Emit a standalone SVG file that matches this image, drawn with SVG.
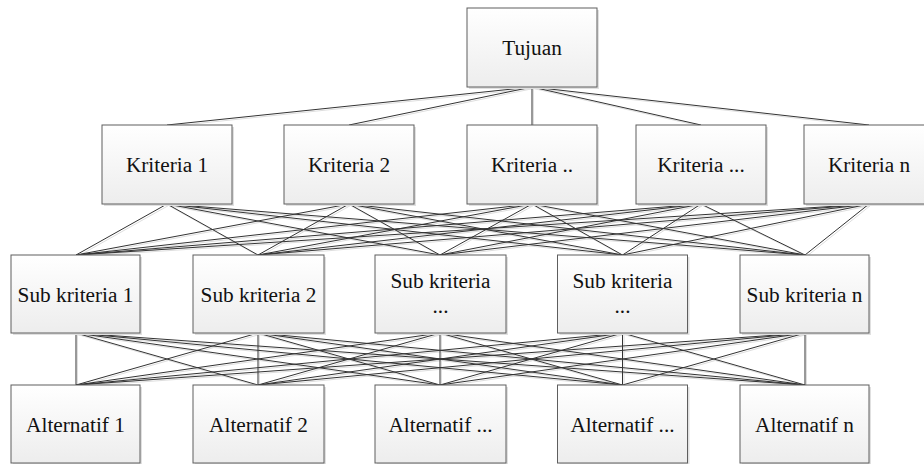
<svg xmlns="http://www.w3.org/2000/svg" xmlns:xlink="http://www.w3.org/1999/xlink" width="924" height="464" viewBox="0 0 924 464">
<defs>
<linearGradient id="gf" x1="0" y1="0" x2="0" y2="1">
<stop offset="0" stop-color="#ffffff"/>
<stop offset="1" stop-color="#ededed"/>
</linearGradient>
</defs>
<style>
.sh{fill:#e0e0e0;stroke:none}
.bx{fill:url(#gf);stroke:#5e5e5e;stroke-width:1}
.t{font-family:"Liberation Serif","Times New Roman","DejaVu Serif",serif;font-size:21.3px;fill:#111;text-anchor:middle}
</style>
<rect width="924" height="464" fill="#ffffff"/>
<g id="connectors" fill="none">
<g stroke="#dedede" stroke-width="1" transform="translate(1.5,1.5)"><use xlink:href="#edges" href="#edges"/></g>
<g stroke="#333333" stroke-width="1">
<g id="edges">
<line x1="532" y1="87" x2="167" y2="125"/>
<line x1="532" y1="87" x2="349" y2="125"/>
<line x1="532" y1="87" x2="532" y2="125"/>
<line x1="532" y1="87" x2="701" y2="125"/>
<line x1="532" y1="87" x2="869" y2="125"/>
<path d="M167 204L76 255M167 204L258 255M167 204L440 255M167 204L622.5 255M167 204L805 255"/>
<path d="M349 204L76 255M349 204L258 255M349 204L440 255M349 204L622.5 255M349 204L805 255"/>
<path d="M532 204L76 255M532 204L258 255M532 204L440 255M532 204L622.5 255M532 204L805 255"/>
<path d="M701 204L76 255M701 204L258 255M701 204L440 255M701 204L622.5 255M701 204L805 255"/>
<path d="M869 204L76 255M869 204L258 255M869 204L440 255M869 204L622.5 255M869 204L805 255"/>
<path d="M76 333L76 385M76 333L258 385M76 333L440 385M76 333L622.5 385M76 333L805 385"/>
<path d="M258 333L76 385M258 333L258 385M258 333L440 385M258 333L622.5 385M258 333L805 385"/>
<path d="M440 333L76 385M440 333L258 385M440 333L440 385M440 333L622.5 385M440 333L805 385"/>
<path d="M622.5 333L76 385M622.5 333L258 385M622.5 333L440 385M622.5 333L622.5 385M622.5 333L805 385"/>
<path d="M805 333L76 385M805 333L258 385M805 333L440 385M805 333L622.5 385M805 333L805 385"/>
</g>
</g>
</g>

<g id="tujuan"><rect class="sh" x="469" y="10" width="130" height="79"/><rect class="bx" x="467" y="8" width="130" height="79"/><text class="t" x="532" y="55">Tujuan</text></g>

<g id="kriteria1"><rect class="sh" x="104" y="127" width="130" height="79"/><rect class="bx" x="102" y="125" width="130" height="79"/><text class="t" x="167" y="172">Kriteria 1</text></g>
<g id="kriteria2"><rect class="sh" x="286" y="127" width="130" height="79"/><rect class="bx" x="284" y="125" width="130" height="79"/><text class="t" x="349" y="172">Kriteria 2</text></g>
<g id="kriteria3"><rect class="sh" x="469" y="127" width="130" height="79"/><rect class="bx" x="467" y="125" width="130" height="79"/><text class="t" x="532" y="172">Kriteria ..</text></g>
<g id="kriteria4"><rect class="sh" x="638" y="127" width="130" height="79"/><rect class="bx" x="636" y="125" width="130" height="79"/><text class="t" x="701" y="172">Kriteria ...</text></g>
<g id="kriteriaN"><rect class="sh" x="806" y="127" width="130" height="79"/><rect class="bx" x="804" y="125" width="130" height="79"/><text class="t" x="869" y="172">Kriteria n</text></g>

<g id="sub1"><rect class="sh" x="13" y="257" width="129" height="78"/><rect class="bx" x="11" y="255" width="129" height="78"/><text class="t" x="75.5" y="301.5">Sub kriteria 1</text></g>
<g id="sub2"><rect class="sh" x="195" y="257" width="131" height="78"/><rect class="bx" x="193" y="255" width="131" height="78"/><text class="t" x="258.5" y="301.5">Sub kriteria 2</text></g>
<g id="sub3"><rect class="sh" x="377" y="257" width="131" height="78"/><rect class="bx" x="375" y="255" width="131" height="78"/><text class="t" x="440.5" y="287.5">Sub kriteria</text><text class="t" x="440.5" y="313">...</text></g>
<g id="sub4"><rect class="sh" x="559.5" y="257" width="130" height="78"/><rect class="bx" x="557.5" y="255" width="130" height="78"/><text class="t" x="622.5" y="287.5">Sub kriteria</text><text class="t" x="622.5" y="313">...</text></g>
<g id="subN"><rect class="sh" x="742" y="257" width="129" height="78"/><rect class="bx" x="740" y="255" width="129" height="78"/><text class="t" x="804.5" y="301.5">Sub kriteria n</text></g>

<g id="alt1"><rect class="sh" x="13" y="387" width="129" height="78"/><rect class="bx" x="11" y="385" width="129" height="78"/><text class="t" x="75.5" y="431.5">Alternatif 1</text></g>
<g id="alt2"><rect class="sh" x="195" y="387" width="131" height="78"/><rect class="bx" x="193" y="385" width="131" height="78"/><text class="t" x="258.5" y="431.5">Alternatif 2</text></g>
<g id="alt3"><rect class="sh" x="377" y="387" width="131" height="78"/><rect class="bx" x="375" y="385" width="131" height="78"/><text class="t" x="440.5" y="431.5">Alternatif ...</text></g>
<g id="alt4"><rect class="sh" x="559.5" y="387" width="130" height="78"/><rect class="bx" x="557.5" y="385" width="130" height="78"/><text class="t" x="622.5" y="431.5">Alternatif ...</text></g>
<g id="altN"><rect class="sh" x="742" y="387" width="129" height="78"/><rect class="bx" x="740" y="385" width="129" height="78"/><text class="t" x="804.5" y="431.5">Alternatif n</text></g>
</svg>
